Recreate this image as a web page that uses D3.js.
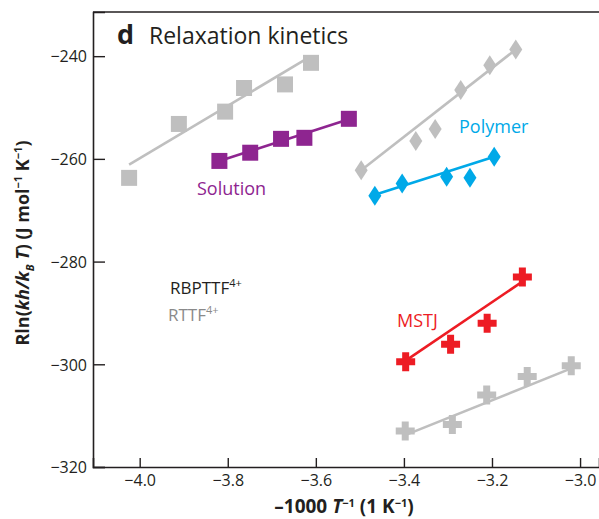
<!DOCTYPE html>
<html><head><meta charset="utf-8">
<script src="https://cdn.jsdelivr.net/npm/d3@7"></script>
<style>body{margin:0;background:#fff;} text{font-family:"Open Sans","Noto Sans",sans-serif;}</style>
</head><body>
<svg id="c" width="599" height="519"></svg>
<script>
// ---- data ----
const xTicks = [-4.0, -3.8, -3.6, -3.4, -3.2, -3.0];
const yTicks = [-240, -260, -280, -300, -320];

const rttfSolutionX = [-4.024, -3.911, -3.806, -3.763, -3.670, -3.611];
const rttfSolutionY = [-263.7, -253.2, -250.8, -246.2, -245.5, -241.3];
const rttfSolutionFit = [[-4.024, -261.1], [-3.611, -240.0]];

const rbpSolutionX = [-3.819, -3.749, -3.679, -3.626, -3.525];
const rbpSolutionY = [-260.4, -258.8, -256.1, -255.9, -252.2];
const rbpSolutionFit = [[-3.819, -260.4], [-3.525, -252.3]];

const rttfPolymerX = [-3.497, -3.373, -3.329, -3.271, -3.205, -3.146];
const rttfPolymerY = [-262.2, -256.5, -254.2, -246.6, -241.75, -238.7];
const rttfPolymerFit = [[-3.497, -262.2], [-3.146, -238.7]];

const rbpPolymerX = [-3.466, -3.404, -3.303, -3.250, -3.195];
const rbpPolymerY = [-267.2, -264.8, -263.5, -263.7, -259.6];
const rbpPolymerFit = [[-3.466, -267.0], [-3.195, -259.6]];

const rbpMstjX = [-3.396, -3.294, -3.211, -3.131];
const rbpMstjY = [-299.5, -296.1, -292.0, -283.0];
const rbpMstjFit = [[-3.396, -299.3], [-3.136, -284.2]];

const rttfMstjX = [-3.397, -3.290, -3.212, -3.120, -3.020];
const rttfMstjY = [-313.0, -311.7, -306.0, -302.4, -300.3];
const rttfMstjFit = [[-3.397, -313.8], [-3.020, -300.8]];

// ---- styles ----
const GRAY = "#bfbfbf", PURPLE = "#8e2590", BLUE = "#00a9e8", RED = "#ed1c24", INK = "#231f20";

const svg = d3.select("#c");
const x = d3.scaleLinear().domain([-4.106, -2.957]).range([93, 599]);
const y = d3.scaleLinear().domain([-320, -231.4]).range([467, 12]);

// frame top line
svg.append("line").attr("x1", 93).attr("x2", 599).attr("y1", 12).attr("y2", 12)
  .attr("stroke", INK).attr("stroke-width", 1.6);

const xAxis = svg.append("g").attr("transform", "translate(0,467)")
  .call(d3.axisBottom(x).tickValues(xTicks).tickSize(-9).tickPadding(7)
    .tickFormat(d => d3.format(".1f")(d).replace("-", "\u2212")));
const yAxis = svg.append("g").attr("transform", "translate(93,0)")
  .call(d3.axisLeft(y).tickValues(yTicks).tickSize(-12).tickPadding(6)
    .tickFormat(d => String(d).replace("-", "\u2212")));
[xAxis, yAxis].forEach(g => {
  g.select(".domain").attr("stroke", INK).attr("stroke-width", 1.6);
  g.selectAll(".tick line").attr("stroke", INK).attr("stroke-width", 1.4);
  g.selectAll(".tick text").attr("fill", INK).style("font-size", "16px")
    .style("font-family", "'Open Sans',sans-serif");
});
yAxis.selectAll(".tick text").attr("dy", "0.36em");
xAxis.selectAll(".tick text").attr("dy", "0.75em");

const line = d3.line().x(d => x(d[0])).y(d => y(d[1]));
function fit(pts, color) {
  svg.append("path").attr("d", line(pts)).attr("fill", "none")
    .attr("stroke", color).attr("stroke-width", 2.6);
}
const zip = (xs, ys) => xs.map((v, i) => [v, ys[i]]);

const sq = d3.symbol().type(d3.symbolSquare).size(256);
const dia = "M0,-10L6.5,0L0,10L-6.5,0Z";
const cross = "M-3.5,-9.5H3.5V-3.5H9.5V3.5H3.5V9.5H-3.5V3.5H-9.5V-3.5H-3.5Z";
function pts(data, path, color) {
  svg.append("g").selectAll("path").data(data).join("path")
    .attr("d", path).attr("fill", color)
    .attr("transform", d => `translate(${x(d[0])},${y(d[1])})`);
}

fit(rttfSolutionFit, GRAY); pts(zip(rttfSolutionX, rttfSolutionY), sq, GRAY);
fit(rbpSolutionFit, PURPLE); pts(zip(rbpSolutionX, rbpSolutionY), sq, PURPLE);
fit(rttfPolymerFit, GRAY); pts(zip(rttfPolymerX, rttfPolymerY), dia, GRAY);
fit(rbpPolymerFit, BLUE); pts(zip(rbpPolymerX, rbpPolymerY), dia, BLUE);
fit(rbpMstjFit, RED); pts(zip(rbpMstjX, rbpMstjY), cross, RED);
fit(rttfMstjFit, GRAY); pts(zip(rttfMstjX, rttfMstjY), cross, GRAY);

// title
svg.append("text").attr("x", 117).attr("y", 44).attr("fill", INK)
  .style("font-size", "27px").style("font-weight", "bold").text("d");
svg.append("text").attr("x", 149).attr("y", 44).attr("fill", INK)
  .style("font-size", "23px").text("Relaxation kinetics");

// series labels
function label(tx, ty, txt, color) {
  svg.append("text").attr("x", tx).attr("y", ty).attr("fill", color)
    .style("font-size", "18px").text(txt);
}
label(197, 195, "Solution", PURPLE);
label(459, 133, "Polymer", BLUE);
label(397, 327, "MSTJ", RED);

// legend
function leg(tx, ty, base, color) {
  const t = svg.append("text").attr("x", tx).attr("y", ty).attr("fill", color).style("font-size", "17px");
  t.append("tspan").text(base);
  t.append("tspan").attr("dy", -7).style("font-size", "11px").text("4+");
}
leg(170, 294, "RBPTTF", INK);
leg(168, 321, "RTTF", "#8a8a8a");

// axis titles
const xt = svg.append("text").attr("x", 344).attr("y", 513).attr("text-anchor", "middle")
  .attr("fill", INK).style("font-size", "19px").style("font-weight", "bold");
xt.append("tspan").text("\u20131000 ");
xt.append("tspan").style("font-style", "italic").text("T");
xt.append("tspan").attr("dy", -6).style("font-size", "11px").text("\u22121");
xt.append("tspan").attr("dy", 6).text(" (1 K");
xt.append("tspan").attr("dy", -6).style("font-size", "11px").text("\u22121");
xt.append("tspan").attr("dy", 6).text(")");

const yt = svg.append("text").attr("transform", "translate(29,243) rotate(-90)").attr("text-anchor", "middle")
  .attr("fill", INK).style("font-size", "18px").style("font-weight", "bold");
yt.append("tspan").text("Rln(");
yt.append("tspan").style("font-style", "italic").text("kh/k");
yt.append("tspan").attr("dy", 5).style("font-size", "11px").style("font-style", "italic").text("B");
yt.append("tspan").attr("dy", -5).style("font-style", "italic").text(" T");
yt.append("tspan").text(") (J mol");
yt.append("tspan").attr("dy", -7).style("font-size", "11px").text("\u22121");
yt.append("tspan").attr("dy", 7).text(" K");
yt.append("tspan").attr("dy", -7).style("font-size", "11px").text("\u22121");
yt.append("tspan").attr("dy", 7).text(")");
</script>
</body></html>
